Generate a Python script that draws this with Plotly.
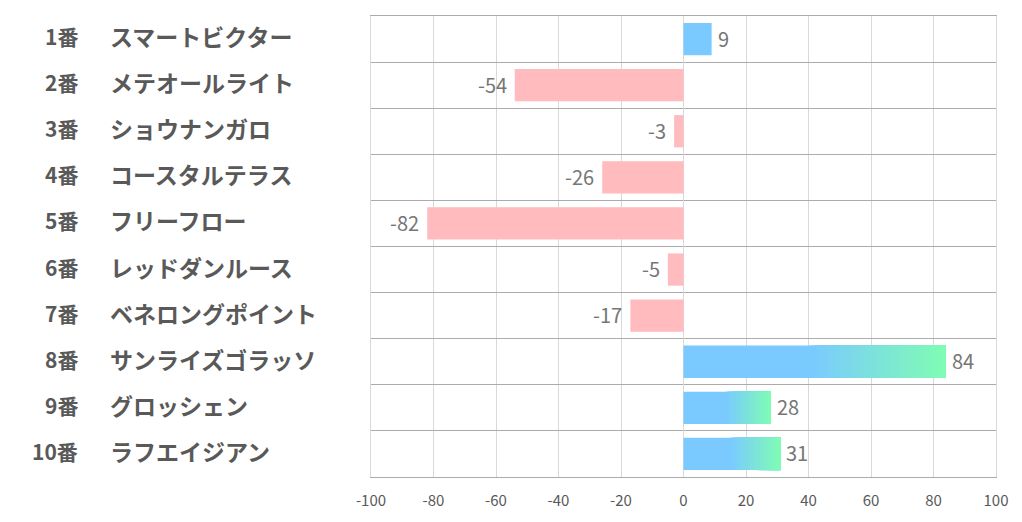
import plotly.graph_objects as go

numbers = ["1番", "2番", "3番", "4番", "5番", "6番", "7番", "8番", "9番", "10番"]
names = ["スマートビクター", "メテオールライト", "ショウナンガロ", "コースタルテラス", "フリーフロー",
         "レッドダンルース", "ベネロングポイント", "サンライズゴラッソ", "グロッシェン", "ラフエイジアン"]
values = [9, -54, -3, -26, -82, -5, -17, 84, 28, 31]
gradient = [False, False, False, False, False, False, False, True, True, True]
x_ticks = [-100, -80, -60, -40, -20, 0, 20, 40, 60, 80, 100]

BLUE = (122, 202, 255)
GREEN = (127, 252, 180)
PINK = "#FFBBBE"
N_SEG = 40
GRAD_START = 0.48

cats = numbers
fig = go.Figure()

# negative bars
fig.add_trace(go.Bar(
    y=cats, x=[v if v < 0 else None for v in values], orientation="h",
    marker=dict(color=PINK, line=dict(width=0)), width=0.7, hoverinfo="skip", showlegend=False))

# positive bars: full-length blue base (gradient is painted on top)
fig.add_trace(go.Bar(
    y=cats, x=[v if v > 0 else None for v in values],
    orientation="h",
    marker=dict(color="rgb(%d,%d,%d)" % BLUE, line=dict(width=0)), width=0.7,
    hoverinfo="skip", showlegend=False))

# gradient segments (each overlapping the next to hide seams)
for k in range(N_SEG):
    t = k / (N_SEG - 1)
    col = tuple(round(BLUE[i] + (GREEN[i] - BLUE[i]) * t) for i in range(3))
    xs, bs = [], []
    for v, g in zip(values, gradient):
        if v > 0 and g:
            seg = v * (1 - GRAD_START) / N_SEG
            start = v * GRAD_START + k * seg
            xs.append(v - start)
            bs.append(start)
        else:
            xs.append(None)
            bs.append(0)
    fig.add_trace(go.Bar(
        y=cats, x=xs, base=bs, orientation="h",
        marker=dict(color="rgb(%d,%d,%d)" % col, line=dict(width=0)), width=0.7,
        hoverinfo="skip", showlegend=False))

PAGE_OFF = 8  # default body margin of the html page
PLOT_L, PLOT_R, PLOT_T, PLOT_B = 371, 996, 16, 477
W, H = 1022, 522
pw = PLOT_R - PLOT_L

annotations = []
for n, nm, v in zip(numbers, names, values):
    annotations.append(dict(x=(80 - PLOT_L) / pw, xref="paper", y=n, yref="y", text="<b>%s</b>" % n,
                            showarrow=False, xanchor="right", yshift=3,
                            font=dict(family="Noto Sans CJK JP", size=21, color="#595959")))
    annotations.append(dict(x=(108 - PLOT_L) / pw, xref="paper", y=n, yref="y", text="<b>%s</b>" % nm,
                            showarrow=False, xanchor="left", yshift=3,
                            font=dict(family="Noto Sans CJK JP", size=23, color="#595959")))
    annotations.append(dict(x=v, xref="x", y=n, yref="y", text=str(v), showarrow=False,
                            xanchor="left" if v >= 0 else "right", xshift=4 if v >= 0 else -6,
                            yshift=1,
                            font=dict(family="Noto Sans CJK JP", size=20, color="#767676")))

fig.update_layout(
    width=W, height=H,
    margin=dict(l=PLOT_L - PAGE_OFF, r=W - PLOT_R + PAGE_OFF, t=PLOT_T - PAGE_OFF, b=H - PLOT_B + PAGE_OFF, pad=0),
    paper_bgcolor="white", plot_bgcolor="white",
    barmode="overlay",
    annotations=annotations,
    xaxis=dict(range=[-100, 100], tickvals=x_ticks, ticktext=[str(t) for t in x_ticks],
               showgrid=True, gridcolor="#D9D9D9", gridwidth=1,
               zeroline=True, zerolinecolor="#D9D9D9", zerolinewidth=1,
               showline=True, mirror=True, linecolor="#ABABAB", linewidth=1,
               ticks="", ticklabelstandoff=10, fixedrange=True,
               tickfont=dict(family="Noto Sans CJK JP", size=15, color="#595959")),
    yaxis=dict(type="category", categoryorder="array", categoryarray=cats, autorange="reversed",
               showticklabels=False, tickson="boundaries", ticks="",
               showgrid=True, gridcolor="#ABABAB", gridwidth=1,
               showline=True, mirror=True, linecolor="#D9D9D9", linewidth=1,
               zeroline=False),
)

fig.write_html("out.html")
